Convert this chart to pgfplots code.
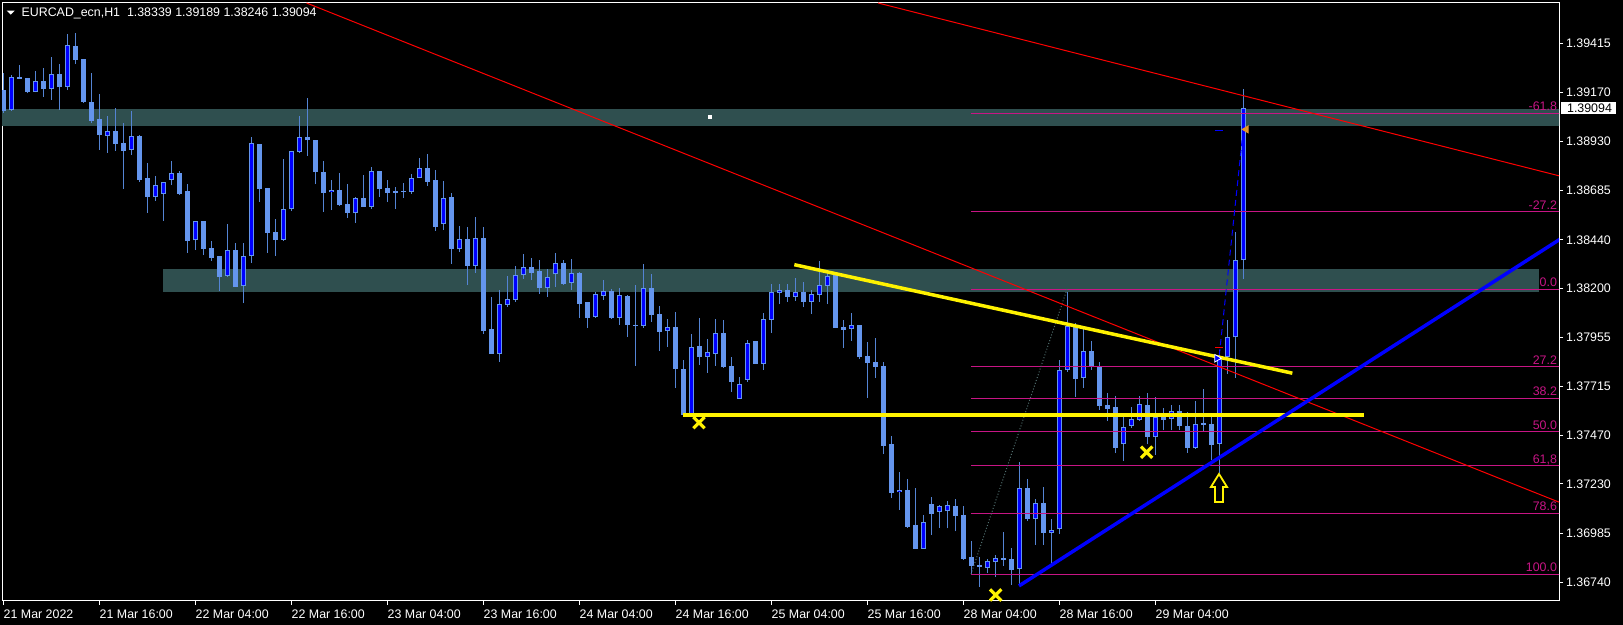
\documentclass[border=0pt]{standalone}
\usepackage{pgfplots}
\pgfplotsset{compat=1.18}
\usepackage{pgfplotstable}
\usepackage{fontspec}
\setmainfont{Liberation Sans}

\definecolor{cfb}{RGB}{100,149,237}
\definecolor{wick}{RGB}{84,132,212}
\definecolor{zone}{RGB}{47,79,79}
\definecolor{fib}{RGB}{199,21,133}
\definecolor{fibdiag}{RGB}{80,110,110}
\definecolor{mtorange}{RGB}{230,150,40}

% EURCAD H1 bars, index 0 = 21 Mar 04:00
\pgfplotstableread{
k o h l c
0 1.39183 1.39266 1.39068 1.39081
1 1.39084 1.39256 1.39081 1.39246
2 1.39248 1.39307 1.39238 1.39238
3 1.39243 1.39243 1.39167 1.39173
4 1.39175 1.39278 1.39172 1.39228
5 1.39228 1.39291 1.39149 1.39188
6 1.39190 1.39346 1.39134 1.39263
7 1.39263 1.39311 1.39084 1.39198
8 1.39200 1.39463 1.39183 1.39407
9 1.39402 1.39466 1.39312 1.39332
10 1.39337 1.39337 1.39119 1.39124
11 1.39124 1.39268 1.39021 1.39030
12 1.39040 1.39162 1.38886 1.38960
13 1.38957 1.39055 1.38873 1.38980
14 1.38980 1.39094 1.38882 1.38916
15 1.38921 1.39020 1.38694 1.38881
16 1.38887 1.39079 1.38863 1.38955
17 1.38957 1.38962 1.38729 1.38737
18 1.38747 1.38821 1.38575 1.38653
19 1.38654 1.38758 1.38633 1.38712
20 1.38669 1.38729 1.38534 1.38727
21 1.38739 1.38831 1.38712 1.38772
22 1.38773 1.38780 1.38663 1.38668
23 1.38683 1.38719 1.38377 1.38435
24 1.38438 1.38534 1.38390 1.38534
25 1.38534 1.38534 1.38365 1.38396
26 1.38400 1.38435 1.38337 1.38352
27 1.38360 1.38360 1.38187 1.38258
28 1.38260 1.38517 1.38255 1.38388
29 1.38390 1.38423 1.38208 1.38208
30 1.38210 1.38423 1.38126 1.38360
31 1.38359 1.38950 1.38327 1.38919
32 1.38916 1.38916 1.38630 1.38694
33 1.38697 1.38697 1.38377 1.38476
34 1.38481 1.38545 1.38359 1.38441
35 1.38441 1.38840 1.38436 1.38592
36 1.38593 1.38881 1.38583 1.38881
37 1.38876 1.39055 1.38870 1.38950
38 1.38950 1.39144 1.38858 1.38934
39 1.38935 1.38935 1.38717 1.38777
40 1.38777 1.38830 1.38580 1.38674
41 1.38676 1.38737 1.38588 1.38688
42 1.38688 1.38772 1.38610 1.38613
43 1.38618 1.38717 1.38550 1.38575
44 1.38572 1.38654 1.38525 1.38646
45 1.38648 1.38762 1.38605 1.38605
46 1.38605 1.38802 1.38593 1.38780
47 1.38780 1.38780 1.38654 1.38694
48 1.38697 1.38736 1.38628 1.38674
49 1.38683 1.38702 1.38595 1.38674
50 1.38683 1.38721 1.38648 1.38679
51 1.38679 1.38768 1.38669 1.38746
52 1.38746 1.38846 1.38746 1.38795
53 1.38795 1.38866 1.38709 1.38729
54 1.38737 1.38787 1.38486 1.38506
55 1.38517 1.38732 1.38491 1.38646
56 1.38651 1.38674 1.38322 1.38396
57 1.38393 1.38509 1.38382 1.38445
58 1.38445 1.38503 1.38216 1.38312
59 1.38312 1.38554 1.38277 1.38448
60 1.38450 1.38504 1.37973 1.37988
61 1.37998 1.38157 1.37876 1.37876
62 1.37876 1.38192 1.37835 1.38122
63 1.38119 1.38261 1.38109 1.38147
64 1.38144 1.38311 1.38134 1.38265
65 1.38265 1.38370 1.38246 1.38304
66 1.38306 1.38350 1.38241 1.38276
67 1.38286 1.38340 1.38172 1.38203
68 1.38200 1.38297 1.38157 1.38256
69 1.38269 1.38375 1.38208 1.38324
70 1.38324 1.38340 1.38218 1.38221
71 1.38225 1.38345 1.38193 1.38276
72 1.38276 1.38281 1.38054 1.38124
73 1.38132 1.38132 1.38005 1.38054
74 1.38059 1.38183 1.38054 1.38172
75 1.38163 1.38241 1.38144 1.38185
76 1.38187 1.38197 1.38049 1.38054
77 1.38054 1.38202 1.38020 1.38167
78 1.38162 1.38168 1.37960 1.38020
79 1.38018 1.38216 1.37816 1.38015
80 1.38015 1.38321 1.38005 1.38200
81 1.38202 1.38271 1.38034 1.38069
82 1.38073 1.38112 1.37891 1.37985
83 1.37987 1.38048 1.37910 1.38007
84 1.38007 1.38083 1.37707 1.37801
85 1.37800 1.37845 1.37572 1.37572
86 1.37572 1.37973 1.37563 1.37907
87 1.37912 1.38053 1.37820 1.37859
88 1.37861 1.37949 1.37782 1.37883
89 1.37876 1.38048 1.37816 1.37977
90 1.37977 1.38043 1.37805 1.37808
91 1.37815 1.37859 1.37687 1.37735
92 1.37653 1.37760 1.37653 1.37725
93 1.37747 1.37944 1.37737 1.37927
94 1.37939 1.37939 1.37826 1.37826
95 1.37826 1.38078 1.37796 1.38046
96 1.38044 1.38221 1.37980 1.38180
97 1.38178 1.38221 1.38122 1.38193
98 1.38192 1.38221 1.38134 1.38157
99 1.38158 1.38251 1.38137 1.38180
100 1.38182 1.38231 1.38107 1.38132
101 1.38134 1.38190 1.38073 1.38170
102 1.38168 1.38334 1.38132 1.38215
103 1.38213 1.38279 1.38122 1.38263
104 1.38266 1.38281 1.38003 1.38003
105 1.38008 1.38043 1.37905 1.37995
106 1.37997 1.38078 1.37940 1.38017
107 1.38017 1.38017 1.37851 1.37859
108 1.37864 1.37934 1.37656 1.37830
109 1.37835 1.37952 1.37757 1.37810
110 1.37815 1.37833 1.37378 1.37418
111 1.37428 1.37468 1.37159 1.37186
112 1.37188 1.37289 1.37101 1.37201
113 1.37200 1.37254 1.37013 1.37018
114 1.37026 1.37210 1.36909 1.36909
115 1.36909 1.37074 1.36909 1.37040
116 1.37129 1.37165 1.36977 1.37082
117 1.37092 1.37125 1.37011 1.37120
118 1.37094 1.37145 1.37010 1.37124
119 1.37120 1.37155 1.36995 1.37072
120 1.37076 1.37120 1.36854 1.36858
121 1.36868 1.36947 1.36783 1.36824
122 1.36829 1.36869 1.36720 1.36819
123 1.36814 1.36859 1.36790 1.36846
124 1.36844 1.36879 1.36768 1.36861
125 1.36863 1.36992 1.36823 1.36853
126 1.36858 1.36914 1.36730 1.36803
127 1.36807 1.37339 1.36729 1.37210
128 1.37210 1.37256 1.37048 1.37056
129 1.37058 1.37157 1.36929 1.37134
130 1.37134 1.37215 1.36927 1.36988
131 1.36988 1.37058 1.36836 1.37001
132 1.37005 1.37845 1.36983 1.37795
133 1.37793 1.38183 1.37786 1.38013
134 1.38012 1.38028 1.37663 1.37750
135 1.37757 1.38003 1.37707 1.37889
136 1.37889 1.37939 1.37795 1.37811
137 1.37811 1.37836 1.37597 1.37618
138 1.37623 1.37679 1.37544 1.37602
139 1.37611 1.37666 1.37382 1.37410
140 1.37426 1.37568 1.37345 1.37511
141 1.37519 1.37610 1.37506 1.37552
142 1.37548 1.37666 1.37544 1.37626
143 1.37621 1.37679 1.37426 1.37464
144 1.37464 1.37663 1.37375 1.37563
145 1.37563 1.37606 1.37497 1.37548
146 1.37550 1.37620 1.37497 1.37590
147 1.37590 1.37620 1.37497 1.37519
148 1.37519 1.37588 1.37385 1.37410
149 1.37407 1.37641 1.37405 1.37527
150 1.37524 1.37701 1.37489 1.37532
151 1.37529 1.37580 1.37349 1.37424
152 1.37428 1.37894 1.37283 1.37849
153 1.37861 1.38043 1.37775 1.37957
154 1.37957 1.38478 1.37757 1.38339
155 1.38339 1.39189 1.38246 1.39094
}\candles

\begin{document}
\fontsize{6.2pt}{7.4pt}\selectfont
\begin{tikzpicture}
\path[use as bounding box, fill=black] (0,0) rectangle (811.5pt,312.5pt);
\begin{axis}[
  at={(1pt,12pt)}, anchor=south west,
  scale only axis, width=778.5pt, height=299pt,
  xmin=-0.1625, xmax=194.4625,
  ymin=1.366493, ymax=1.396148,
  axis line style={white, line width=0.5pt},
  tick style={white, line width=0.5pt},
  major tick length=2pt, tick align=outside,
  xtick pos=left, ytick pos=right,
  xtick={0,12,...,144},
  xticklabels={21 Mar 2022, 21 Mar 16:00, 22 Mar 04:00, 22 Mar 16:00, 23 Mar 04:00, 23 Mar 16:00, 24 Mar 04:00, 24 Mar 16:00, 25 Mar 04:00, 25 Mar 16:00, 28 Mar 04:00, 28 Mar 16:00, 29 Mar 04:00},
  ytick={1.39415,1.39170,1.38930,1.38685,1.38440,1.38200,1.37955,1.37715,1.37470,1.37230,1.36985,1.36740},
  yticklabels={1.39415,1.39170,1.38930,1.38685,1.38440,1.38200,1.37955,1.37715,1.37470,1.37230,1.36985,1.36740},
  ticklabel style={white, font=\fontsize{6.2pt}{7.4pt}\selectfont, inner sep=0pt},
  xticklabel style={anchor=north west, yshift=-2pt},
  yticklabel style={anchor=west, xshift=1.3pt},
  unbounded coords=discard,
  clip=true,
]
% zones
\addplot[fill=zone, draw=none] coordinates {(-1,1.390064) (196,1.390064) (196,1.390892) (-1,1.390892)} --cycle;
\addplot[fill=zone, draw=none] coordinates {(19.96,1.381832) (191.9,1.381832) (191.9,1.382957) (19.96,1.382957)} --cycle;

% candles as vertical segments: wicks, bodies, fill of rising bars
\addplot[wick, line width=0.5pt, mark=none, quiver={u=0, v=\thisrow{h}-\thisrow{l}}]
  table[x=k, y=l] {\candles};
\addplot[cfb, line width=2.5pt, mark=none, quiver={u=0, v={max(abs(\thisrow{c}-\thisrow{o}),0.00005)}}]
  table[x=k, y expr={min(\thisrow{o},\thisrow{c})}] {\candles};
\addplot[blue, line width=1.5pt, mark=none, quiver={u=0, v=\thisrow{c}-\thisrow{o}-0.0000992}]
  table[x expr={\thisrow{c}-\thisrow{o}>0.00011 ? \thisrow{k} : nan}, y expr={\thisrow{o}+0.0000496}] {\candles};

% fibonacci levels
\pgfplotsinvokeforeach{1.390685,1.385795,1.381951,1.378107,1.376552,1.374885,1.373217,1.370842,1.367818}{
  \addplot[fib, line width=0.5pt] coordinates {(120.96,#1) (200,#1)};
}
\addplot[fibdiag, line width=0.5pt, densely dotted] coordinates {(120.96,1.36782) (132.96,1.38195)};
\node[fib, anchor=base east, inner sep=0pt, yshift=1.2pt] at (axis cs:194.25,1.390685) {-61.8};
\node[fib, anchor=base east, inner sep=0pt, yshift=1.2pt] at (axis cs:194.25,1.385795) {-27.2};
\node[fib, anchor=base east, inner sep=0pt, yshift=1.2pt] at (axis cs:194.25,1.381951) {0.0};
\node[fib, anchor=base east, inner sep=0pt, yshift=1.2pt] at (axis cs:194.25,1.378107) {27.2};
\node[fib, anchor=base east, inner sep=0pt, yshift=1.2pt] at (axis cs:194.25,1.376552) {38.2};
\node[fib, anchor=base east, inner sep=0pt, yshift=1.2pt] at (axis cs:194.25,1.374885) {50.0};
\node[fib, anchor=base east, inner sep=0pt, yshift=1.2pt] at (axis cs:194.25,1.373217) {61,8};
\node[fib, anchor=base east, inner sep=0pt, yshift=1.2pt] at (axis cs:194.25,1.370842) {78.6};
\node[fib, anchor=base east, inner sep=0pt, yshift=1.2pt] at (axis cs:194.25,1.367818) {100.0};

% trend lines
\addplot[red, line width=0.5pt] coordinates {(37.9,1.396148) (200,1.37052)};
\addplot[red, line width=0.5pt] coordinates {(109.34,1.396148) (200,1.38702)};
\addplot[yellow, line width=1.75pt] coordinates {(84.93,1.37571) (170.09,1.37571)};
\addplot[yellow, line width=1.75pt] coordinates {(98.88,1.38317) (161.13,1.37779)};
\addplot[blue, line width=1.75pt] coordinates {(126.96,1.36724) (200,1.38581)};

% trade marks
\addplot[blue, line width=0.5pt, densely dashed] coordinates {(152.0,1.37869) (155.0,1.38990)};
\addplot[blue, line width=0.6pt] coordinates {(151.5,1.38984) (152.5,1.38984)};
\addplot[red, line width=0.6pt] coordinates {(151.5,1.37907) (152.5,1.37907)};
\addplot[only marks, mark=triangle*, mark size=2.2pt, mark options={rotate=-90, fill=blue, draw=white, line width=0.4pt}] coordinates {(151.7,1.37853)};
\addplot[only marks, mark=triangle*, mark size=2pt, mark options={rotate=90, fill=mtorange, draw=mtorange}] coordinates {(155.35,1.38988)};
\addplot[only marks, mark=square*, mark size=0.8pt, mark options={fill=white, draw=white}] coordinates {(88.34,1.39050)};

% yellow crosses and arrow
\addplot[only marks, mark=x, mark size=4pt, mark options={draw=yellow, line width=1.6pt}] coordinates {(86.96,1.37534) (142.92,1.37387) (124.05,1.36679)};
\addplot[yellow, line width=0.9pt] coordinates {(151.96,1.37279) (152.96,1.37215) (152.46,1.37215) (152.46,1.37140) (151.46,1.37140) (151.46,1.37215) (150.96,1.37215)} --cycle;
\end{axis}

% header and current price
\fill[white] (3.35pt,307.15pt) -- (7.35pt,307.15pt) -- (5.35pt,305.15pt) -- cycle;
\node[white, anchor=base west, inner sep=0pt] at (10.6pt,304.2pt) {EURCAD\_ecn,H1\ \ 1.38339 1.39189 1.38246 1.39094};
\fill[white] (780.5pt,255.35pt) rectangle (808pt,261.65pt);
\node[black, anchor=west, inner sep=0pt] at (783.35pt,258.5pt) {1.39094};
\end{tikzpicture}
\end{document}
